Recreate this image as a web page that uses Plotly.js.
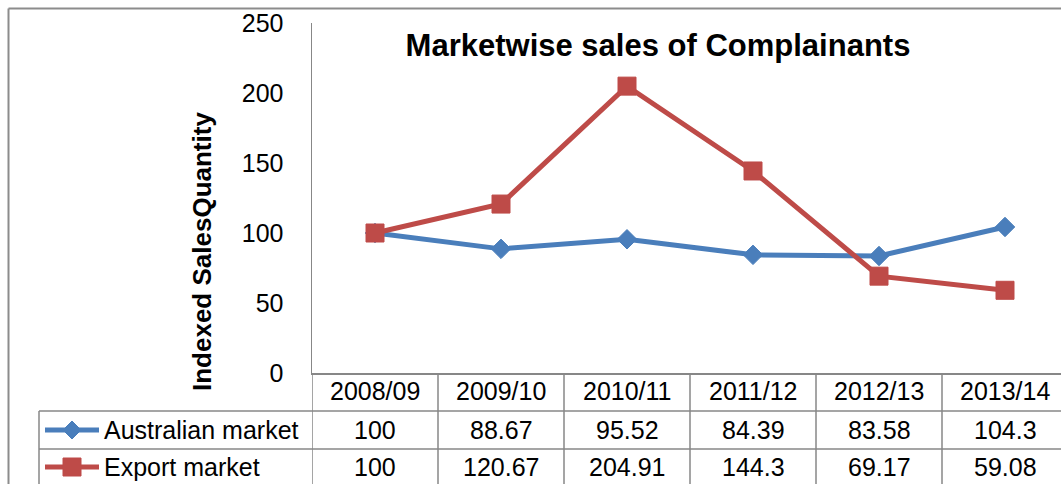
<!DOCTYPE html>
<html>
<head>
<meta charset="utf-8">
<script src="https://cdn.plot.ly/plotly-3.0.1.min.js"></script>
<style>
html,body{margin:0;padding:0;overflow:hidden;background:#fff;}
#chart{width:1061px;height:484px;}
</style>
</head>
<body>
<div id="chart"></div>
<script>
// ---- data ----
var categories = ['2008/09','2009/10','2010/11','2011/12','2012/13','2013/14'];
var australian = [100, 88.67, 95.52, 84.39, 83.58, 104.3];
var exportMkt = [100, 120.67, 204.91, 144.3, 69.17, 59.08];
var seriesNames = ['Australian market', 'Export market'];
var yTickVals = [0, 50, 100, 150, 200, 250];
var chartTitle = 'Marketwise sales of Complainants';
var yTitle = 'Indexed SalesQuantity';

// ---- layout helpers (pixel -> paper, decoration only) ----
var W = 1061, H = 484;
var L = 312, T = 23, B = 111, R = 0;
var PW = W - L - R, PH = H - T - B;
function px(x){ return (x - L) / PW; }
function py(y){ return (H - B - y) / PH; }

var blue = '#4A7EBB', red = '#BE4B48', grid = '#878787';
var FONT = 'Liberation Sans, Arial, sans-serif';

var series = [australian, exportMkt];
var colors = [blue, red];
var symbols = ['diamond', 'square'];
var sizes = [15, 18];
var rowCenters = [430, 467];
var headerCenter = 391;

var traces = series.map(function(vals, i){
  return {
    type: 'scatter', mode: 'lines+markers',
    x: categories, y: vals, name: seriesNames[i],
    line: {color: colors[i], width: 5},
    marker: {symbol: symbols[i], size: sizes[i], color: colors[i], line: {color: colors[i], width: 1}},
    cliponaxis: false, hoverinfo: 'x+y+name'
  };
});

var shapes = [];
var annotations = [];

// outer chart border (top and left)
shapes.push({type:'line', xref:'paper', yref:'paper', x0:px(8.5), x1:1.05, y0:py(8.5), y1:py(8.5), line:{color:'#8c8c8c', width:2}});
shapes.push({type:'line', xref:'paper', yref:'paper', x0:px(8.5), x1:px(8.5), y0:py(8.5), y1:py(500), line:{color:'#8c8c8c', width:2}});

// table vertical lines at category boundaries
for (var k = 0; k <= categories.length; k++) {
  shapes.push({type:'line', xref:'x', yref:'paper', x0:k-0.5, x1:k-0.5, y0:0, y1:py(500), line:{color:grid, width:1.5}});
}
// legend column left edge
shapes.push({type:'line', xref:'paper', yref:'paper', x0:px(39), x1:px(39), y0:py(411), y1:py(500), line:{color:grid, width:1.5}});
// table horizontal lines
[411, 449, 487].forEach(function(yy){
  shapes.push({type:'line', xref:'paper', yref:'paper', x0:px(39), x1:1.05, y0:py(yy), y1:py(yy), line:{color:grid, width:1.5}});
});

// header row (category labels)
categories.forEach(function(c, j){
  annotations.push({xref:'x', yref:'paper', x:j, y:py(headerCenter), xanchor:'center', yanchor:'middle',
                    text:c, showarrow:false, font:{family:FONT, size:25, color:'#000'}});
});

// legend keys and values inside the table
series.forEach(function(vals, i){
  var yc = py(rowCenters[i]);
  shapes.push({type:'line', xref:'paper', yref:'paper', x0:px(45), x1:px(99), y0:yc, y1:yc, line:{color:colors[i], width:5}});
  var path = symbols[i] === 'diamond' ? 'M-9,0 L0,9 L9,0 L0,-9 Z' : 'M-9,-9 L9,-9 L9,9 L-9,9 Z';
  shapes.push({type:'path', xref:'paper', yref:'paper', xsizemode:'pixel', ysizemode:'pixel',
               xanchor:px(72), yanchor:yc, path:path, fillcolor:colors[i], line:{color:colors[i], width:1}});
  annotations.push({xref:'paper', yref:'paper', x:px(102), y:yc, xanchor:'left', yanchor:'middle',
                    text:seriesNames[i], showarrow:false, font:{family:FONT, size:25, color:'#000'}});
  vals.forEach(function(v, j){
    annotations.push({xref:'x', yref:'paper', x:j, y:yc, xanchor:'center', yanchor:'middle',
                      text:String(v), showarrow:false, font:{family:FONT, size:25, color:'#000'}});
  });
});

// y axis title
annotations.push({xref:'paper', yref:'paper', x:px(202), y:py(252), xanchor:'center', yanchor:'middle',
                  text:yTitle, textangle:-90, showarrow:false,
                  font:{family:FONT, size:26, color:'#000', weight:'bold'}});

var layout = {
  width: W, height: H, autosize: false,
  margin: {l: L, r: R, t: T, b: B, pad: 0},
  paper_bgcolor: '#fff', plot_bgcolor: '#fff',
  showlegend: false,
  title: {text: chartTitle, xref:'container', yref:'container', x: 658/W, y: 1 - 45/H,
          xanchor:'center', yanchor:'middle', font:{family:FONT, size:31, color:'#000', weight:'bold'}},
  xaxis: {
    type:'category', range:[-0.5, -0.5 + PW/126], fixedrange:true,
    showgrid:false, zeroline:false, showline:true, linecolor:grid, linewidth:1.5,
    ticks:'', showticklabels:false
  },
  yaxis: {
    range:[0, 250], tickvals:yTickVals, ticktext:yTickVals.map(String), fixedrange:true,
    showgrid:false, zeroline:false, showline:true, linecolor:grid, linewidth:1.5,
    ticks:'', ticklabelstandoff: 22,
    tickfont:{family:FONT, size:25, color:'#000'}
  },
  shapes: shapes,
  annotations: annotations
};

Plotly.newPlot('chart', traces, layout, {displayModeBar:false, staticPlot:true});
</script>
</body>
</html>
